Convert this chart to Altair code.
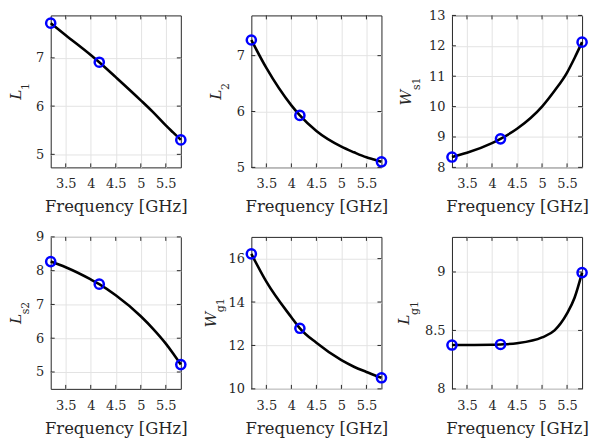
import altair as alt
import pandas as pd

# ---------------- data ----------------
freq = [3.2, 4.17, 5.8]                      # design points [GHz]
freq_curve = [3.2, 3.5, 4.0, 4.17, 4.5, 5.0, 5.25, 5.5, 5.65, 5.8]

L1_pts = [7.72, 6.91, 5.30]
L1_curve = [7.72, 7.47, 7.06, 6.91, 6.60, 6.12, 5.87, 5.60, 5.45, 5.30]

L2_pts = [7.28, 5.93, 5.10]
L2_curve = [7.28, 6.78, 6.11, 5.93, 5.65, 5.37, 5.27, 5.18, 5.14, 5.10]

Ws1_pts = [8.34, 8.94, 12.12]
Ws1_curve = [8.34, 8.48, 8.80, 8.94, 9.27, 10.0, 10.52, 11.12, 11.6, 12.12]

Ls2_pts = [8.27, 7.60, 5.22]
Ls2_curve = [8.27, 8.10, 7.74, 7.60, 7.27, 6.65, 6.27, 5.84, 5.54, 5.22]

Wg1_pts = [16.22, 12.79, 10.51]
Wg1_curve = [16.22, 14.94, 13.30, 12.79, 12.12, 11.32, 11.02, 10.78, 10.64, 10.51]

Lg1_pts = [8.375, 8.38, 8.995]
Lg1_curve = [8.375, 8.375, 8.377, 8.38, 8.39, 8.44, 8.50, 8.645, 8.78, 8.995]

x_domain = [3.2, 5.8]
x_ticks = [3.5, 4.0, 4.5, 5.0, 5.5]
x_title = "Frequency [GHz]"

# (main letter, subscript, points, curve, y domain, y ticks, title offset)
panels_spec = [
    ("L", "1", L1_pts, L1_curve, [4.73, 7.88], [5, 6, 7], 30),
    ("L", "2", L2_pts, L2_curve, [5.0, 7.72], [5, 6, 7], 31),
    ("W", "s1", Ws1_pts, Ws1_curve, [8, 13], [8, 9, 10, 11, 12, 13], 41),
    ("L", "s2", Ls2_pts, Ls2_curve, [4.5, 9], [5, 6, 7, 8, 9], 30),
    ("W", "g1", Wg1_pts, Wg1_curve, [10, 17], [10, 12, 14, 16], 36),
    ("L", "g1", Lg1_pts, Lg1_curve, [8, 9.3], [8, 8.5, 9], 43),
]

W, H = 131, 153
FONT = "DejaVu Serif"
AX = "#262626"
MAIN_FS, SUB_FS = 15.5, 11
adv = {"L": 0.64, "W": 1.0, "1": 0.636, "2": 0.636, "s1": 1.15, "s2": 1.15, "g1": 1.28}


def panel(main, sub, pts, curve, ydom, yticks, off):
    x = alt.X("f:Q", scale=alt.Scale(domain=x_domain, nice=False, zero=False),
              axis=alt.Axis(values=x_ticks, format=".1~f", title=x_title,
                            labelFlush=False))
    y = alt.Y("v:Q", scale=alt.Scale(domain=ydom, nice=False, zero=False),
              axis=alt.Axis(values=yticks, format=".1~f", title=None))
    crv = pd.DataFrame({"f": freq_curve, "v": curve})
    pdf = pd.DataFrame({"f": freq, "v": pts})
    xt = pd.DataFrame({"f": x_ticks})
    yt = pd.DataFrame({"v": yticks})

    line = alt.Chart(crv).mark_line(color="black", strokeWidth=2.6,
                                    interpolate="monotone").encode(x=x, y=y)
    points = alt.Chart(pdf).mark_point(shape="circle", filled=False, color="#0000ff",
                                       size=85, strokeWidth=2.5, opacity=1).encode(x=x, y=y)
    tk = dict(color=AX, strokeWidth=1)
    xb = alt.Chart(xt).mark_rule(**tk).encode(x=x, y=alt.value(H), y2=alt.value(H - 4))
    xtp = alt.Chart(xt).mark_rule(**tk).encode(x=x, y=alt.value(0), y2=alt.value(4))
    yl = alt.Chart(yt).mark_rule(**tk).encode(y=y, x=alt.value(0), x2=alt.value(4))
    yr = alt.Chart(yt).mark_rule(**tk).encode(y=y, x=alt.value(W), x2=alt.value(W - 4))

    a_main = adv[main] * MAIN_FS
    a_sub = adv[sub] * SUB_FS
    y_main = H / 2 + (a_main + a_sub) / 2
    t_main = alt.Chart(pd.DataFrame({"t": [main]})).mark_text(
        angle=270, align="left", baseline="alphabetic", font=FONT,
        fontStyle="italic", fontSize=MAIN_FS, color=AX
    ).encode(text="t:N", x=alt.value(-off), y=alt.value(y_main))
    t_sub = alt.Chart(pd.DataFrame({"t": [sub]})).mark_text(
        angle=270, align="left", baseline="alphabetic", font=FONT,
        fontSize=SUB_FS, color=AX
    ).encode(text="t:N", x=alt.value(-off + 8.5), y=alt.value(y_main - a_main))

    return alt.layer(line, xb, xtp, yl, yr, points, t_main, t_sub).properties(width=W, height=H)


charts = [panel(*p) for p in panels_spec]

chart = alt.concat(*charts, columns=3, spacing={"column": 71, "row": 70},
                   bounds="flush").properties(
    padding={"left": 0, "top": -1, "right": 0, "bottom": 0}
).configure_view(
    stroke=AX, strokeWidth=1
).configure_axis(
    domain=False, ticks=False, grid=True, gridColor="#e3e3e3", gridWidth=1,
    labelFont=FONT, labelFontSize=13, labelColor=AX,
    titleFont=FONT, titleFontSize=16.5, titleColor=AX, titleFontWeight="normal",
).configure_axisX(
    labelPadding=10.5, titlePadding=8
).configure_axisY(
    labelPadding=7
)

chart.save("out.html", embed_options={"renderer": "svg", "actions": False})
